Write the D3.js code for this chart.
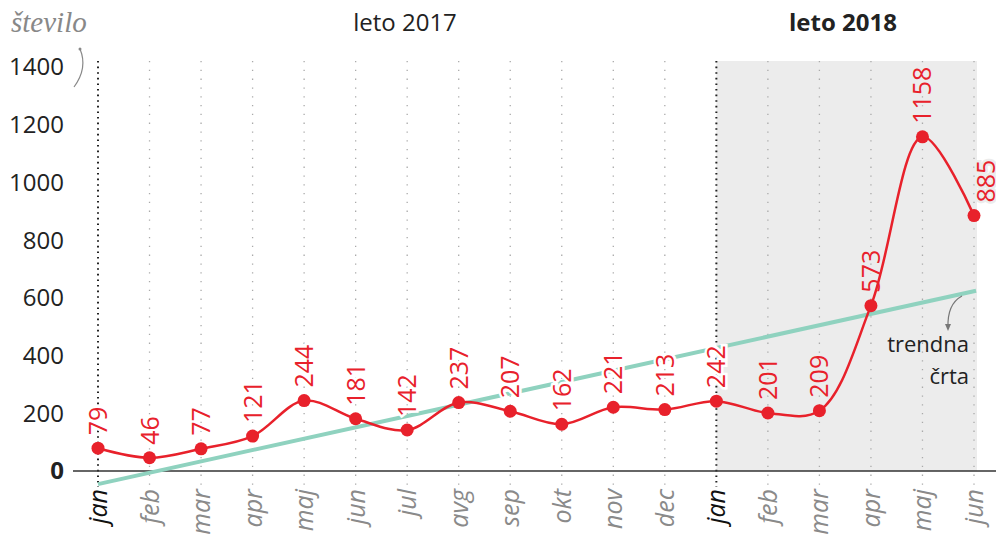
<!DOCTYPE html>
<html>
  <head>
    <title>Število po mesecih</title>
    <meta charset="utf-8">
    <script type="text/javascript" src="https://d3js.org/d3.v7.min.js"></script>
    <style>
      body { margin: 0; background: #fff; }
      text { font-family: "Open Sans", sans-serif; }
    </style>
  </head>

  <body>
    <svg></svg>

    <script type="text/javascript">
      "use strict";

      // data
      var months = ['jan', 'feb', 'mar', 'apr', 'maj', 'jun', 'jul', 'avg', 'sep', 'okt', 'nov', 'dec',
                    'jan', 'feb', 'mar', 'apr', 'maj', 'jun'];
      var years  = [2017, 2017, 2017, 2017, 2017, 2017, 2017, 2017, 2017, 2017, 2017, 2017,
                    2018, 2018, 2018, 2018, 2018, 2018];
      var counts = [79, 46, 77, 121, 244, 181, 142, 237, 207, 162, 221, 213,
                    242, 201, 209, 573, 1158, 885];
      var yTicks = [0, 200, 400, 600, 800, 1000, 1200, 1400];
      var yearLabels = ['leto 2017', 'leto 2018'];

      var W = 996, H = 536;
      var red = '#e8212b', mint = '#8fd2bf', shade = '#ececec';

      var svg = d3.select('svg')
                  .attr('width', W)
                  .attr('height', H);

      var x = d3.scaleLinear()
                .domain([0, months.length - 1])
                .range([98, 974]);
      var y = d3.scaleLinear()
                .domain([0, 1400])
                .range([471, 67]);

      // shaded 2018 part
      var first2018 = years.indexOf(2018);
      svg.append('rect')
         .attr('x', x(first2018))
         .attr('y', 61)
         .attr('width', x(months.length - 1) + 3 - x(first2018))
         .attr('height', y(0) - 61)
         .attr('fill', shade);

      // dotted month lines
      svg.selectAll('line.grid')
         .data(months)
         .enter().append('line')
         .attr('class', 'grid')
         .attr('x1', function(d, i) { return x(i); })
         .attr('x2', function(d, i) { return x(i); })
         .attr('y1', 61)
         .attr('y2', 487)
         .attr('stroke', function(d) { return d === 'jan' ? '#222' : '#aaa'; })
         .attr('stroke-width', function(d) { return d === 'jan' ? 2 : 1.3; })
         .attr('stroke-dasharray', function(d) { return d === 'jan' ? '1.6,4' : '1.3,7.5'; });

      // baseline
      svg.append('line')
         .attr('x1', 73).attr('x2', W)
         .attr('y1', y(0)).attr('y2', y(0))
         .attr('stroke', '#333')
         .attr('stroke-width', 1.5);

      // y axis labels
      svg.selectAll('text.ytick')
         .data(yTicks)
         .enter().append('text')
         .attr('class', 'ytick')
         .attr('x', 64)
         .attr('y', function(d) { return y(d); })
         .attr('dy', '0.35em')
         .attr('text-anchor', 'end')
         .attr('font-size', 24)
         .attr('font-weight', function(d) { return d === 0 ? 'bold' : 'normal'; })
         .attr('fill', '#222')
         .text(function(d) { return d; });

      // linear trend (least squares over the counts)
      var n = counts.length;
      var mx = d3.mean(counts, function(d, i) { return i; });
      var my = d3.mean(counts);
      var sxy = d3.sum(counts, function(d, i) { return (i - mx) * (d - my); });
      var sxx = d3.sum(counts, function(d, i) { return (i - mx) * (i - mx); });
      var slope = sxy / sxx, icpt = my - slope * mx;
      var trendEnd = n - 1 + 0.04;
      svg.append('line')
         .attr('x1', x(0)).attr('y1', y(icpt))
         .attr('x2', x(trendEnd)).attr('y2', y(icpt + slope * trendEnd))
         .attr('stroke', mint)
         .attr('stroke-width', 4);

      // value labels with halo (drawn before the line so the line stays on top)
      svg.selectAll('text.val')
         .data(counts)
         .enter().append('text')
         .attr('class', 'val')
         .attr('transform', function(d, i) {
           var dx = i === n - 1 ? 12 : 0;
           return 'translate(' + (x(i) + dx) + ',' + (y(d) - 13) + ') rotate(-90)';
         })
         .attr('dy', '0.36em')
         .attr('font-size', 25)
         .attr('fill', red)
         .attr('stroke', function(d, i) { return i <= first2018 ? '#fff' : shade; })
         .attr('stroke-width', 5)
         .attr('paint-order', 'stroke')
         .text(function(d) { return d; });

      // data line
      var line = d3.line()
                   .x(function(d, i) { return x(i); })
                   .y(function(d) { return y(d); })
                   .curve(d3.curveCatmullRom.alpha(0.5));
      svg.append('path')
         .datum(counts)
         .attr('d', line)
         .attr('fill', 'none')
         .attr('stroke', red)
         .attr('stroke-width', 2.5);

      svg.selectAll('circle.dot')
         .data(counts)
         .enter().append('circle')
         .attr('class', 'dot')
         .attr('cx', function(d, i) { return x(i); })
         .attr('cy', function(d) { return y(d); })
         .attr('r', 6.5)
         .attr('fill', red);

      // month labels
      svg.selectAll('text.month')
         .data(months)
         .enter().append('text')
         .attr('class', 'month')
         .attr('transform', function(d, i) { return 'translate(' + x(i) + ',489) rotate(-90)'; })
         .attr('dy', '0.36em')
         .attr('text-anchor', 'end')
         .attr('font-size', 25)
         .attr('font-style', 'italic')
         .attr('fill', function(d) { return d === 'jan' ? '#111' : '#8a8a8a'; })
         .text(function(d) { return d; });

      // headings
      svg.selectAll('text.year')
         .data(yearLabels)
         .enter().append('text')
         .attr('class', 'year')
         .attr('x', function(d, i) { return i === 0 ? 405 : 843; })
         .attr('y', 31)
         .attr('text-anchor', 'middle')
         .attr('font-size', 24)
         .attr('font-weight', function(d, i) { return i === 1 ? 'bold' : 'normal'; })
         .attr('fill', '#222')
         .text(function(d) { return d; });

      svg.append('text')
         .attr('x', 11).attr('y', 32)
         .attr('font-style', 'italic')
         .attr('fill', '#888')
         .style('font-family', '"Liberation Serif", serif')
         .attr('font-size', 29)
         .text('število');

      // little arc under "število"
      svg.append('path')
         .attr('d', 'M80,49 Q88,68 74,87')
         .attr('fill', 'none')
         .attr('stroke', '#888')
         .attr('stroke-width', 1.2);
      svg.append('circle').attr('cx', 80).attr('cy', 49).attr('r', 1.5).attr('fill', '#888');

      // trend annotation
      var note = svg.append('text')
                    .attr('text-anchor', 'end')
                    .attr('font-size', 22)
                    .attr('fill', '#222');
      note.append('tspan').attr('x', 969).attr('y', 352).text('trendna');
      note.append('tspan').attr('x', 969).attr('y', 384).text('črta');

      svg.append('path')
         .attr('d', 'M962,296 Q947,304 948,328')
         .attr('fill', 'none')
         .attr('stroke', '#777')
         .attr('stroke-width', 1.2);
      svg.append('path')
         .attr('d', 'M945,324 L948,331 L951,324 Z')
         .attr('fill', '#777');
    </script>
  </body>
</html>
